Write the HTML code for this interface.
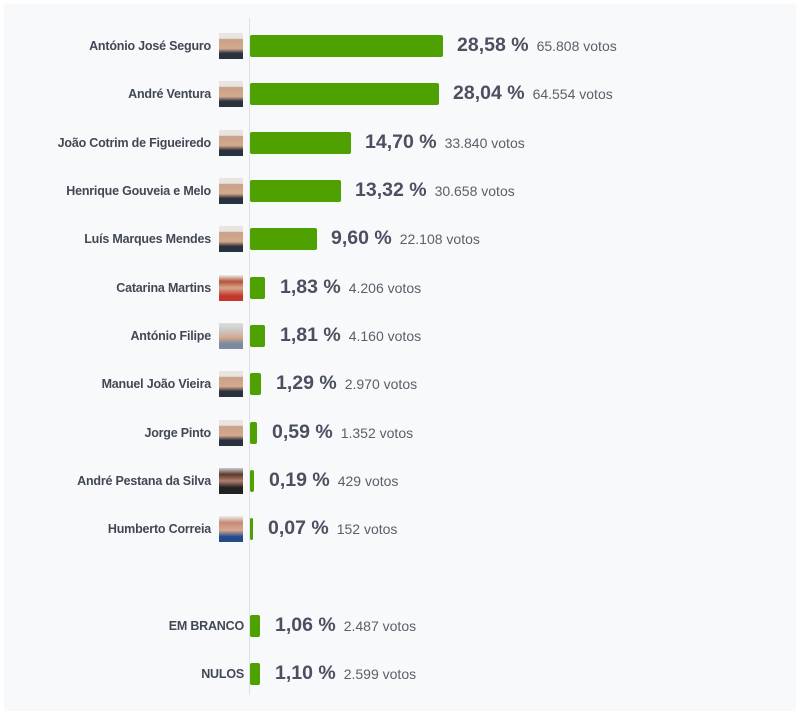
<!DOCTYPE html>
<html><head><meta charset="utf-8"><style>
body{margin:0;width:800px;height:721px;background:#fff;font-family:"Liberation Sans",sans-serif;position:relative;overflow:hidden}
#p{position:absolute;left:4px;top:4px;width:792px;height:707px;background:#f8f9fb}
.ax{position:absolute;left:249px;top:18px;width:1px;height:677px;background:#dde1e6}
.row{position:absolute;left:0;height:26px;width:800px}
.lab{position:absolute;right:589px;top:6px;font-size:12.5px;font-weight:bold;color:#414855;white-space:nowrap;letter-spacing:-0.2px}
.ph{position:absolute;left:219px;top:0;width:24px;height:26px;background:linear-gradient(#e8e4e0 0,#e8e4e0 20%,#c9a08a 25%,#d6a98e 60%,#2a3240 78%)}
.bar{position:absolute;left:250px;top:2px;height:22px;background:#4ea100;border-radius:2px}
.pc{position:absolute;top:1px;font-size:19.5px;font-weight:bold;color:#4a5060;white-space:nowrap}
.pc span{font-size:14px;font-weight:normal;color:#5a606a;margin-left:8px}
</style></head><body><div id="p"></div><div class="ax"></div>
<div class="row" style="top:33px"><div class="lab">António José Seguro</div><div class="ph"></div><div class="bar" style="width:193px"></div><div class="pc" style="left:457px">28,58 %<span>65.808 votos</span></div></div>
<div class="row" style="top:81px"><div class="lab">André Ventura</div><div class="ph"></div><div class="bar" style="width:189px"></div><div class="pc" style="left:453px">28,04 %<span>64.554 votos</span></div></div>
<div class="row" style="top:130px"><div class="lab">João Cotrim de Figueiredo</div><div class="ph"></div><div class="bar" style="width:101px"></div><div class="pc" style="left:365px">14,70 %<span>33.840 votos</span></div></div>
<div class="row" style="top:178px"><div class="lab">Henrique Gouveia e Melo</div><div class="ph"></div><div class="bar" style="width:91px"></div><div class="pc" style="left:355px">13,32 %<span>30.658 votos</span></div></div>
<div class="row" style="top:226px"><div class="lab">Luís Marques Mendes</div><div class="ph"></div><div class="bar" style="width:67px"></div><div class="pc" style="left:331px">9,60 %<span>22.108 votos</span></div></div>
<div class="row" style="top:275px"><div class="lab">Catarina Martins</div><div class="ph" style="background:linear-gradient(#eee 0,#b5533a 25%,#d9a58b 50%,#c4372d 80%)"></div><div class="bar" style="width:15px"></div><div class="pc" style="left:280px">1,83 %<span>4.206 votos</span></div></div>
<div class="row" style="top:323px"><div class="lab">António Filipe</div><div class="ph" style="background:linear-gradient(#ddd 0,#ccc 25%,#d6a98e 55%,#7a8aa0 80%)"></div><div class="bar" style="width:15px"></div><div class="pc" style="left:280px">1,81 %<span>4.160 votos</span></div></div>
<div class="row" style="top:371px"><div class="lab">Manuel João Vieira</div><div class="ph"></div><div class="bar" style="width:11px"></div><div class="pc" style="left:276px">1,29 %<span>2.970 votos</span></div></div>
<div class="row" style="top:420px"><div class="lab">Jorge Pinto</div><div class="ph"></div><div class="bar" style="width:7px"></div><div class="pc" style="left:272px">0,59 %<span>1.352 votos</span></div></div>
<div class="row" style="top:468px"><div class="lab">André Pestana da Silva</div><div class="ph" style="background:linear-gradient(#ccc 0,#5a3a2a 25%,#b08070 50%,#222 75%)"></div><div class="bar" style="width:4px"></div><div class="pc" style="left:269px">0,19 %<span>429 votos</span></div></div>
<div class="row" style="top:516px"><div class="lab">Humberto Correia</div><div class="ph" style="background:linear-gradient(#eee 0,#c98a78 25%,#d6a98e 55%,#234a8a 80%)"></div><div class="bar" style="width:3px"></div><div class="pc" style="left:268px">0,07 %<span>152 votos</span></div></div>
<div class="row" style="top:613px"><div class="lab" style="right:556px">EM BRANCO</div><div class="bar" style="width:10px"></div><div class="pc" style="left:275px">1,06 %<span>2.487 votos</span></div></div>
<div class="row" style="top:661px"><div class="lab" style="right:556px">NULOS</div><div class="bar" style="width:10px"></div><div class="pc" style="left:275px">1,10 %<span>2.599 votos</span></div></div>
</body></html>
